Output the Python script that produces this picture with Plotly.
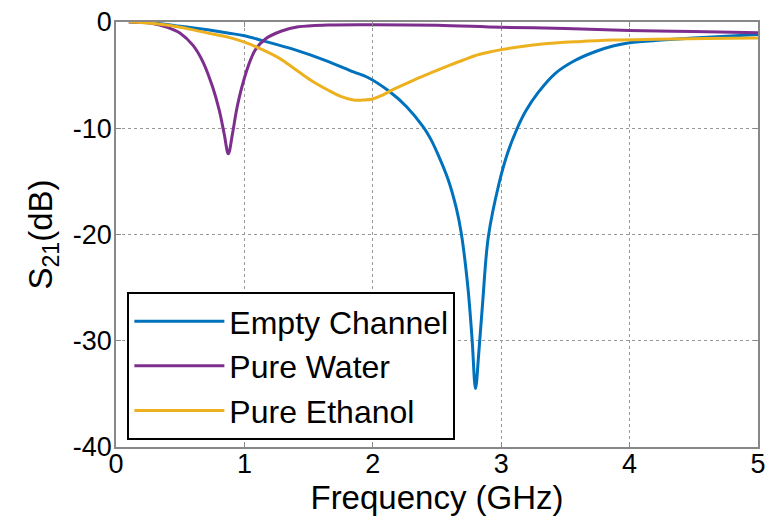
import plotly.graph_objects as go

# Empty Channel (blue)
f_empty = [0.1, 0.3, 0.5, 0.75, 0.88, 1.0, 1.14, 1.39, 1.65, 1.85, 1.958, 2.125, 2.265, 2.394,
           2.45, 2.509, 2.586, 2.65, 2.688, 2.74, 2.773, 2.80, 2.825, 2.855, 2.90, 2.983, 3.048,
           3.125, 3.19, 3.29, 3.42, 3.57, 3.73, 3.87, 4.0, 4.25, 4.5, 4.75, 5.0]
s21_empty = [0.0, -0.1, -0.4, -0.8, -1.05, -1.3, -1.75, -2.6, -3.7, -4.7, -5.2, -6.5, -8.0, -9.9,
             -11.0, -12.5, -14.8, -17.5, -19.8, -24.9, -29.8, -34.5, -31.2, -26.5, -20.2, -15.2, -12.4,
             -10.0, -8.4, -6.6, -4.85, -3.65, -2.8, -2.26, -1.95, -1.7, -1.5, -1.33, -1.18]

# Pure Water (purple)
f_water = [0.1, 0.265, 0.4, 0.5, 0.6, 0.675, 0.752, 0.804, 0.842, 0.875, 0.906, 0.937, 0.96,
           0.983, 1.02, 1.05, 1.086, 1.163, 1.29, 1.42, 1.65, 2.0, 2.5, 3.0, 3.5, 4.0, 4.5, 5.0]
s21_water = [0.0, -0.1, -0.5, -1.05, -2.2, -3.7, -6.1, -8.3, -10.5, -12.4, -10.6, -8.4, -7.1,
             -6.0, -4.5, -3.5, -2.6, -1.6, -0.85, -0.45, -0.28, -0.25, -0.3, -0.5, -0.6, -0.8, -0.9, -1.0]

# Pure Ethanol (yellow)
f_ethanol = [0.1, 0.3, 0.5, 0.7, 0.88, 1.0, 1.14, 1.27, 1.39, 1.52, 1.65, 1.75, 1.85, 1.92,
             2.0, 2.08, 2.16, 2.25, 2.34, 2.42, 2.5, 2.6, 2.7, 2.8, 2.9, 3.0, 3.16, 3.32, 3.6,
             3.87, 4.2, 4.6, 5.0]
s21_ethanol = [0.0, -0.15, -0.5, -1.0, -1.45, -1.9, -2.6, -3.4, -4.4, -5.5, -6.4, -7.0, -7.35, -7.35,
               -7.25, -6.85, -6.35, -5.85, -5.35, -4.95, -4.55, -4.05, -3.6, -3.15, -2.85, -2.6, -2.3,
               -2.07, -1.85, -1.7, -1.62, -1.55, -1.5]

x_ticks = [0, 1, 2, 3, 4, 5]
y_ticks = [0, -10, -20, -30, -40]

series = [
    ("Empty Channel", f_empty, s21_empty, "#0072BD"),
    ("Pure Water", f_water, s21_water, "#7E2F8E"),
    ("Pure Ethanol", f_ethanol, s21_ethanol, "#EDB120"),
]

fig = go.Figure()
for name, fx, fy, col in series:
    fig.add_trace(go.Scatter(x=fx, y=fy, mode="lines", name=name,
                             line=dict(color=col, width=3, shape="spline", smoothing=1.0)))

FONT = "Liberation Sans"
axis_common = dict(
    showline=True, linecolor="#888888", linewidth=1.5, mirror="ticks",
    ticks="inside", ticklen=5, tickcolor="#888888", tickwidth=1,
    showgrid=True, gridcolor="#999999", griddash="dot", gridwidth=1,
    zeroline=False, tickfont=dict(family=FONT, size=27, color="black"),
    ticklabeloverflow="allow",
)

fig.update_layout(
    width=769, height=524,
    margin=dict(l=115.5, r=3, t=22, b=77),
    paper_bgcolor="white", plot_bgcolor="white",
    font=dict(family=FONT, color="black"),
    xaxis=dict(range=[0, 5], tickvals=x_ticks, ticktext=[str(v) for v in x_ticks],
               ticklabelstandoff=-8,
               title=dict(text="Frequency (GHz)", font=dict(family=FONT, size=33), standoff=0),
               **axis_common),
    yaxis=dict(range=[-40, 0], tickvals=y_ticks, ticktext=[str(v) for v in y_ticks],
               ticklabelstandoff=-3,
               title=dict(text="S<sub>21</sub>(dB)", font=dict(family=FONT, size=33), standoff=10),
               **axis_common),
    legend=dict(x=0.0177, y=0.365, xanchor="left", yanchor="top",
                bgcolor="white", bordercolor="black", borderwidth=2,
                font=dict(family=FONT, size=32, color="black"),
                itemwidth=90, tracegroupgap=0),
    showlegend=True,
)

fig.write_html("out.html")
